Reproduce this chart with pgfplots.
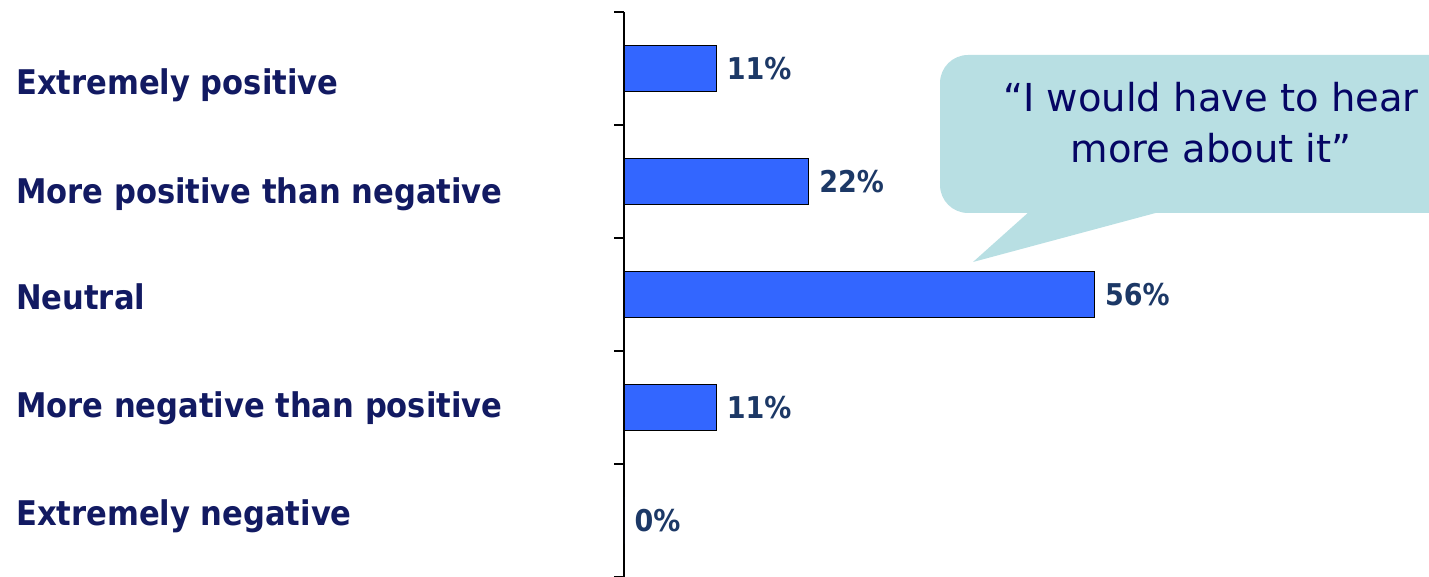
\documentclass[border=0pt]{standalone}
\usepackage{fontspec}
\setmainfont{DejaVu Sans Condensed}
\newfontfamily\quotefont{DejaVu Sans}
\usepackage{pgfplots}
\pgfplotsset{compat=1.18}
\definecolor{barblue}{RGB}{51,102,255}
\definecolor{catnavy}{RGB}{18,26,98}
\definecolor{valnavy}{RGB}{28,56,102}
\definecolor{quotenavy}{RGB}{5,5,100}
\definecolor{bubble}{RGB}{184,223,227}

\begin{document}
\begin{tikzpicture}
\path[use as bounding box] (0pt,0pt) rectangle (1429pt,577pt);

% speech bubble (clipped at right edge like the slide)
\begin{scope}
\clip (0pt,0pt) rectangle (1429pt,577pt);
\fill[bubble, rounded corners=28pt] (940pt,364pt) rectangle (1470pt,522pt);
\fill[bubble] (1030pt,366pt) -- (973pt,315pt) -- (1163pt,366pt) -- cycle;
\node[anchor=base, inner sep=0pt, text=quotenavy, font=\quotefont\fontsize{38.5}{46}\selectfont]
  at (1211pt,465pt) {“I would have to hear};
\node[anchor=base, inner sep=0pt, text=quotenavy, font=\quotefont\fontsize{38.5}{46}\selectfont]
  at (1211pt,414pt) {more about it”};
\end{scope}

\begin{axis}[
    at={(624pt,0pt)}, anchor=south west,
    scale only axis,
    width=805pt, height=565pt,
    xbar,
    bar width=46pt,
    xmin=0, xmax=95.8,
    ymin=-0.5, ymax=4.5,
    axis x line=none,
    axis y line*=left,
    axis line style={black, line width=1.2pt},
    ytick={-0.5,0.5,1.5,2.5,3.5,4.5},
    yticklabels={},
    tick align=outside,
    major tick length=10pt,
    every tick/.append style={black, line width=1.2pt},
    extra y ticks={3.885,2.923,1.978,1.024,0.071},
    extra y tick labels={Extremely positive,More positive than negative,Neutral,More negative than positive,Extremely negative},
    extra y tick style={major tick length=0pt,
        yticklabel style={anchor=base west, inner sep=0pt, xshift=-608pt, yshift=-13pt,
        text=catnavy, font=\fontsize{34}{40}\selectfont\bfseries}},
    nodes near coords={\pgfmathprintnumber[assume math mode=true]{\pgfplotspointmeta}\%},
    nodes near coords style={anchor=west, inner sep=0pt, xshift=10pt,
        text=valnavy, font=\fontsize{30}{36}\selectfont\bfseries},
    clip=false,
]
\addplot[fill=barblue, draw=black, line width=1pt] coordinates {
    (11,4) (22,3) (56,2) (11,1) (0,0)
};
\end{axis}
\end{tikzpicture}
\end{document}
